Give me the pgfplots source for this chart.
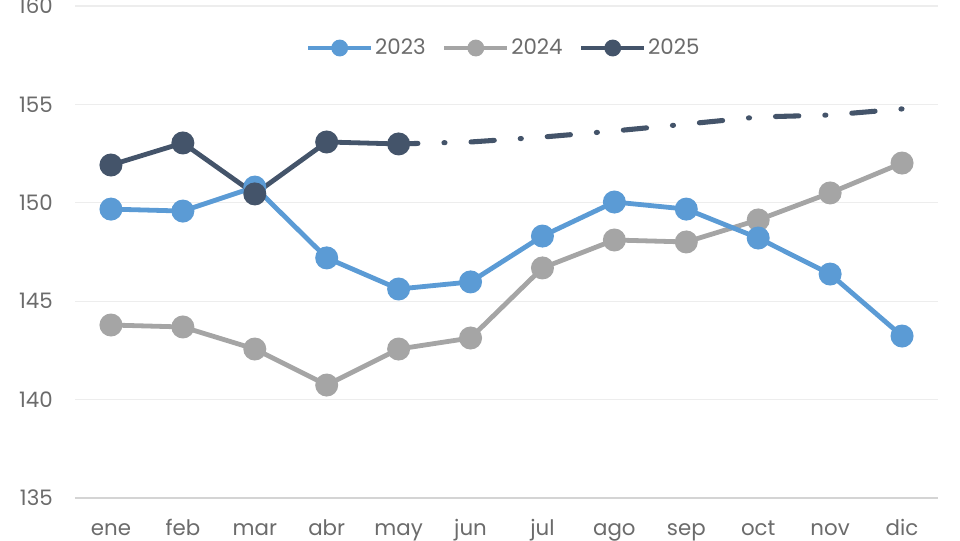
\documentclass[border=0pt]{standalone}
\usepackage{fontspec}
\setmainfont{Poppins}
\usepackage{pgfplots}
\pgfplotsset{compat=1.18}
\definecolor{c23}{HTML}{5B9BD5}
\definecolor{c24}{HTML}{A5A5A5}
\definecolor{c25}{HTML}{44546A}
\definecolor{txt}{HTML}{6B6B6B}
\definecolor{grd}{HTML}{EDEDED}
\definecolor{axl}{HTML}{D4D4D4}
\begin{document}
\begin{tikzpicture}
\begin{axis}[
 at={(0,0)}, anchor=south west,
 scale only axis, width=647.25pt, height=369pt,
 xmin=-0.5, xmax=11.5, ymin=135, ymax=160,
 xtick={0,...,11}, xticklabels={ene,feb,mar,abr,may,jun,jul,ago,sep,oct,nov,dic},
 ytick={135,140,...,160},
 axis x line=bottom, axis y line=left,
 x axis line style={-, draw=axl, line width=1.2pt},
 y axis line style={draw=none},
 major tick length=0pt,
 ymajorgrids, grid style={draw=grd, line width=0.8pt},
 tick label style={font=\fontsize{16}{19}\selectfont, text=txt},
 /pgf/number format/assume math mode=true,
 xticklabel style={anchor=base, yshift=-28pt},
 yticklabel style={anchor=east, inner sep=0pt, xshift=-16.5pt},
 legend columns=3,
 legend style={at={(0.497,0.9146)}, anchor=center, draw=none, fill=none,
   font=\fontsize{16}{19}\selectfont, text=txt,
   /tikz/every even column/.append style={column sep=11pt}, nodes={inner sep=1.5pt}},
 legend image code/.code={\draw[#1, mark repeat=2, mark phase=2] plot coordinates {(0pt,0pt) (23.6pt,0pt) (47.2pt,0pt)};},
]
\addlegendimage{c23, line width=3pt, mark=*, mark size=4.8pt, mark options={fill=c23, draw=c23}}
\addlegendentry{2023}
\addlegendimage{c24, line width=3pt, mark=*, mark size=4.8pt, mark options={fill=c24, draw=c24}}
\addlegendentry{2024}
\addlegendimage{c25, line width=3pt, mark=*, mark size=4.8pt, mark options={fill=c25, draw=c25}}
\addlegendentry{2025}

% 2025 projection
\addplot[forget plot, c25, line width=3.8pt, line cap=round,
  dash pattern=on 17.5pt off 19.5pt on 0.8pt off 19.5pt, dash phase=3pt]
  coordinates {(4,152.99) (5,153.09) (6,153.34) (7,153.65) (8,154.0) (9,154.36) (10,154.46) (11,154.77)};

\addplot[forget plot, c24, line width=3.6pt, mark=*, mark size=6.8pt, mark options={fill=c24, draw=c24}]
  coordinates {(0,143.79) (1,143.69) (2,142.57) (3,140.74) (4,142.57) (5,143.13) (6,146.69) (7,148.11) (8,148.01) (9,149.13) (10,150.50) (11,152.02)};

\addplot[forget plot, c23, line width=3.6pt, mark=*, mark size=6.8pt, mark options={fill=c23, draw=c23}]
  coordinates {(0,149.68) (1,149.58) (2,150.80) (3,147.20) (4,145.62) (5,145.98) (6,148.31) (7,150.04) (8,149.68) (9,148.21) (10,146.38) (11,143.23)};

\addplot[forget plot, c25, line width=3.6pt, mark=*, mark size=6.8pt, mark options={fill=c25, draw=c25}]
  coordinates {(0,151.92) (1,153.04) (2,150.45) (3,153.09) (4,152.99)};
\end{axis}
\pgfresetboundingbox
\path[use as bounding box] (-56.25pt,-31.5pt) rectangle (663.75pt,373.5pt);
\end{tikzpicture}
\end{document}
